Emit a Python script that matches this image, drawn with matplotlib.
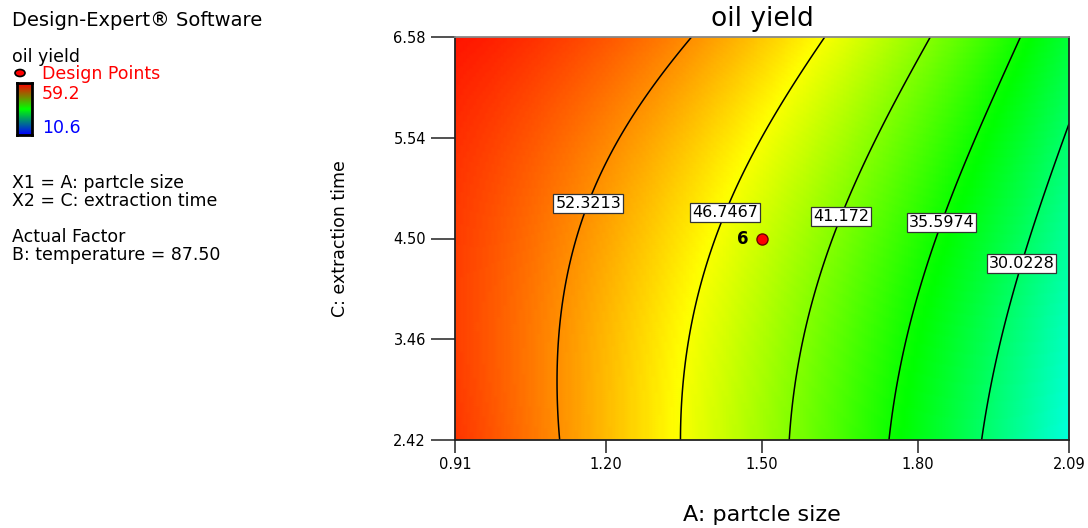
import numpy as np
import matplotlib
matplotlib.use("Agg")
import matplotlib.pyplot as plt
from numpy.polynomial import polynomial as P
from matplotlib.colors import LinearSegmentedColormap
from matplotlib.patches import Ellipse

# factor levels (A: partcle size, C: extraction time)
particle_size = [0.91, 1.205, 1.50, 1.795, 2.09]
extraction_time = [2.42, 3.46, 4.50, 5.54, 6.58]

# oil yield, one row per extraction time
yield_t242 = [56.7, 50.2, 42.6, 34.0, 24.4]
yield_t346 = [56.0, 50.2, 43.3, 35.1, 25.8]
yield_t450 = [56.3, 51.1, 44.6, 36.8, 27.5]
yield_t554 = [57.1, 52.8, 46.6, 39.1, 29.6]
yield_t658 = [58.1, 55.0, 49.5, 42.1, 32.3]

contour_levels = [30.0228, 35.5974, 41.172, 46.7467, 52.3213]
design_point = (1.50, 4.50)
design_point_count = "6"
yield_min, yield_max = 10.6, 59.2
x_ticks = [0.91, 1.20, 1.50, 1.80, 2.09]
y_ticks = [2.42, 3.46, 4.50, 5.54, 6.58]

# where the contour labels sit
label_spots = [(1.98, 4.27), (1.834, 4.69), (1.644, 4.74), (1.423, 4.78), (1.154, 4.89)]

dx_cmap = LinearSegmentedColormap.from_list(
    "dx", ["#0000ff", "#00ffff", "#00ff00", "#ffff00", "#ff0000"])
bar_cmap = LinearSegmentedColormap.from_list("bar", ["#0000ff", "#00ff00", "#ff0000"])

# smooth quadratic response surface through the table (like the DX model)
A, C = np.meshgrid(particle_size, extraction_time)
Z = np.array([yield_t242, yield_t346, yield_t450, yield_t554, yield_t658])
V = P.polyvander2d(A.ravel(), C.ravel(), [2, 2])
coef = np.linalg.lstsq(V, Z.ravel(), rcond=None)[0].reshape(3, 3)
af = np.linspace(particle_size[0], particle_size[-1], 200)
cf = np.linspace(extraction_time[0], extraction_time[-1], 200)
AF, CF = np.meshgrid(af, cf)
ZF = P.polyval2d(AF, CF, coef)

plt.rcParams['font.family'] = 'DejaVu Sans'
fig = plt.figure(figsize=(10.88, 5.28), dpi=100)
ax = fig.add_axes([455/1088, 88/528, 614/1088, 403/528])

ax.pcolormesh(AF, CF, ZF, cmap=dx_cmap, vmin=yield_min, vmax=yield_max, shading='gouraud')
cs = ax.contour(AF, CF, ZF, levels=contour_levels, colors='black', linewidths=1.1)
ax.clabel(cs, fmt='%g', inline=False, fontsize=11.5, colors='black', manual=label_spots)
for t in cs.labelTexts:
    t.set_rotation(0)
    t.set_bbox(dict(boxstyle='square,pad=0.12', fc='white', ec='#333333', lw=0.9))

ax.plot(*design_point, 'o', ms=8, mfc='red', mec='#700000', mew=1)
ax.annotate(design_point_count, design_point, xytext=(-10, 0), textcoords='offset points',
            ha='right', va='center', fontsize=12, fontweight='bold')

ax.set_xlim(particle_size[0], particle_size[-1])
ax.set_ylim(extraction_time[0], extraction_time[-1])
ax.set_xticks(x_ticks)
ax.set_yticks(y_ticks)
ax.set_xticklabels(['%.2f' % v for v in x_ticks])
ax.set_yticklabels(['%.2f' % v for v in y_ticks])
ax.tick_params(axis='x', length=9, width=1.2, pad=3, labelsize=10.5, color='#333333')
ax.tick_params(axis='y', length=17, width=1.2, pad=4, labelsize=10.5, color='#333333')
for s in ax.spines.values():
    s.set_linewidth(1.3)
    s.set_color('#222222')
ax.spines['top'].set_color('#888888')

ax.set_title('oil yield', fontsize=19, pad=8)
ax.set_xlabel('A: partcle size', fontsize=16, labelpad=24)
ax.set_ylabel('C: extraction time', fontsize=12.5, labelpad=32)

# left side legend text
fig.text(12/1088, 1 - 20/528, 'Design-Expert\u00ae Software', fontsize=14, va='center')
fig.text(12/1088, 1 - 57/528, 'oil yield', fontsize=12.5, va='center')
fig.text(42/1088, 1 - 74/528, 'Design Points', fontsize=12.5, va='center', color='red')
fig.text(42/1088, 1 - 94/528, '%.1f' % yield_max, fontsize=12.5, va='center', color='red')
fig.text(42/1088, 1 - 128/528, '%.1f' % yield_min, fontsize=12.5, va='center', color='#0000ff')
fig.text(12/1088, 1 - 183/528, 'X1 = A: partcle size', fontsize=12.5, va='center')
fig.text(12/1088, 1 - 201/528, 'X2 = C: extraction time', fontsize=12.5, va='center')
fig.text(12/1088, 1 - 237/528, 'Actual Factor', fontsize=12.5, va='center')
fig.text(12/1088, 1 - 255/528, 'B: temperature = 87.50', fontsize=12.5, va='center')
fig.add_artist(Ellipse((20/1088, 1 - 73/528), 10/1088, 7/528, transform=fig.transFigure,
                       fc='red', ec='black', lw=1.2))

cax = fig.add_axes([17/1088, 1 - 135/528, 15/1088, 52/528])
cax.imshow(np.linspace(1, 0, 50).reshape(-1, 1), cmap=bar_cmap, aspect='auto')
cax.set_xticks([])
cax.set_yticks([])
for s in cax.spines.values():
    s.set_linewidth(2)
    s.set_color('black')

fig.savefig('out.png', dpi=100)
